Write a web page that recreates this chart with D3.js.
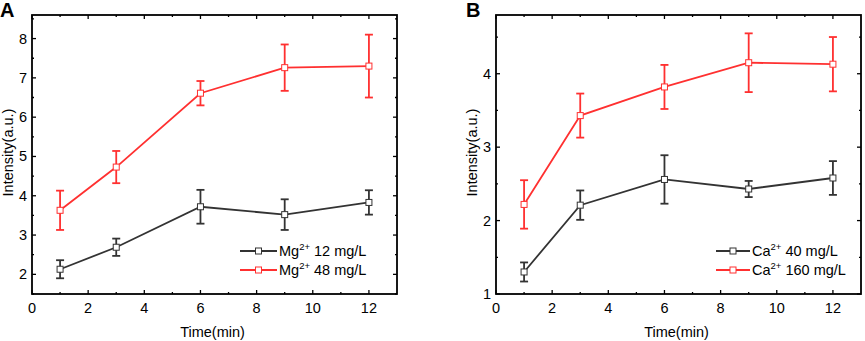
<!DOCTYPE html>
<html>
<head>
<meta charset="utf-8">
<script src="https://cdn.jsdelivr.net/npm/d3@7"></script>
<style>
  body { margin: 0; background: #fff; }
  text { font-family: "Liberation Sans", Arial, sans-serif; }
</style>
</head>
<body>
<div id="chart"></div>
<script>
// data
const times = [1, 3, 6, 9, 12];

const mgLow = [2.13, 2.69, 3.72, 3.52, 3.83];
const mgLowErr = [0.23, 0.22, 0.43, 0.39, 0.31];
const mgHigh = [3.63, 4.73, 6.61, 7.26, 7.30];
const mgHighErr = [0.50, 0.41, 0.31, 0.59, 0.80];

const caLow = [1.30, 2.21, 2.56, 2.43, 2.58];
const caLowErr = [0.13, 0.20, 0.33, 0.11, 0.23];
const caHigh = [2.22, 3.43, 3.82, 4.15, 4.13];
const caHighErr = [0.33, 0.30, 0.30, 0.40, 0.37];

const xTicks = [0, 2, 4, 6, 8, 10, 12];
const yTicksA = [2, 3, 4, 5, 6, 7, 8];
const yTicksB = [1, 2, 3, 4];

const colors = { black: "#333333", red: "#ff3030" };
const fs = 14.5;

const svg = d3.select("#chart").append("svg")
  .attr("width", 865)
  .attr("height", 341);

const panels = [
  {
    letter: "A", letterX: 0, left: 32, right: 397,
    yDomain: [1.5, 8.6], yTicks: yTicksA, yMinor: 0.5,
    titleX: 8, legendX: 240, ion: "Mg", ionUnit: ["12 mg/L", "48 mg/L"],
    series: [
      { values: mgLow, err: mgLowErr, color: colors.black },
      { values: mgHigh, err: mgHighErr, color: colors.red }
    ]
  },
  {
    letter: "B", letterX: 466, left: 496, right: 861,
    yDomain: [1, 4.8], yTicks: yTicksB, yMinor: 0.5,
    titleX: 472, legendX: 716, ion: "Ca", ionUnit: ["40 mg/L", "160 mg/L"],
    series: [
      { values: caLow, err: caLowErr, color: colors.black },
      { values: caHigh, err: caHighErr, color: colors.red }
    ]
  }
];

const plotTop = 15, plotBottom = 294;

panels.forEach(p => {
  const g = svg.append("g");

  const x = d3.scaleLinear().domain([0, 13]).range([p.left, p.right]);
  const y = d3.scaleLinear().domain(p.yDomain).range([plotBottom, plotTop]);

  // minor ticks
  const xMinor = d3.range(1, 13, 2);
  const yMinor = d3.range(Math.ceil(p.yDomain[0] / p.yMinor) * p.yMinor, p.yDomain[1], p.yMinor)
    .filter(v => !p.yTicks.includes(+v.toFixed(2)));

  const tickG = g.append("g").attr("stroke", "#000").attr("stroke-width", 1.3);

  // ticks point inward on all four sides
  xTicks.forEach(v => {
    tickG.append("line").attr("x1", x(v)).attr("x2", x(v)).attr("y1", plotBottom).attr("y2", plotBottom - 4);
    tickG.append("line").attr("x1", x(v)).attr("x2", x(v)).attr("y1", plotTop).attr("y2", plotTop + 4);
  });
  xMinor.forEach(v => {
    tickG.append("line").attr("x1", x(v)).attr("x2", x(v)).attr("y1", plotBottom).attr("y2", plotBottom - 2);
    tickG.append("line").attr("x1", x(v)).attr("x2", x(v)).attr("y1", plotTop).attr("y2", plotTop + 2);
  });
  p.yTicks.forEach(v => {
    tickG.append("line").attr("x1", p.left).attr("x2", p.left + 4).attr("y1", y(v)).attr("y2", y(v));
    tickG.append("line").attr("x1", p.right).attr("x2", p.right - 4).attr("y1", y(v)).attr("y2", y(v));
  });
  yMinor.forEach(v => {
    tickG.append("line").attr("x1", p.left).attr("x2", p.left + 2).attr("y1", y(v)).attr("y2", y(v));
    tickG.append("line").attr("x1", p.right).attr("x2", p.right - 2).attr("y1", y(v)).attr("y2", y(v));
  });

  // frame
  g.append("rect")
    .attr("x", p.left).attr("y", plotTop)
    .attr("width", p.right - p.left).attr("height", plotBottom - plotTop)
    .attr("fill", "none").attr("stroke", "#000").attr("stroke-width", 1.8);

  // tick labels
  g.selectAll(".xl").data(xTicks).join("text")
    .attr("x", d => x(d)).attr("y", plotBottom + 19)
    .attr("text-anchor", "middle").attr("font-size", fs)
    .text(d => d);
  g.selectAll(".yl").data(p.yTicks).join("text")
    .attr("x", p.left - 5).attr("y", d => y(d) + 5)
    .attr("text-anchor", "end").attr("font-size", fs)
    .text(d => d);

  // axis titles
  g.append("text")
    .attr("x", (p.left + p.right) / 2 - 2).attr("y", 337)
    .attr("text-anchor", "middle").attr("font-size", fs)
    .text("Time(min)");
  g.append("text")
    .attr("transform", `translate(${p.titleX + 5},${(plotTop + plotBottom) / 2 - 2}) rotate(-90)`)
    .attr("text-anchor", "middle").attr("font-size", fs)
    .text("Intensity(a.u.)");

  // panel letter
  g.append("text")
    .attr("x", p.letterX).attr("y", 17)
    .attr("font-size", 20).attr("font-weight", "bold")
    .text(p.letter);

  // series
  const line = d3.line().x((d, i) => x(times[i])).y(d => y(d));
  p.series.forEach(s => {
    const sg = g.append("g");
    sg.append("path")
      .attr("d", line(s.values))
      .attr("fill", "none").attr("stroke", s.color).attr("stroke-width", 1.8);

    s.values.forEach((v, i) => {
      const cx = x(times[i]);
      const e = s.err[i];
      sg.append("line").attr("x1", cx).attr("x2", cx).attr("y1", y(v + e)).attr("y2", y(v - e))
        .attr("stroke", s.color).attr("stroke-width", 1.8);
      [v + e, v - e].forEach(w => {
        sg.append("line").attr("x1", cx - 4).attr("x2", cx + 4).attr("y1", y(w)).attr("y2", y(w))
          .attr("stroke", s.color).attr("stroke-width", 1.8);
      });
      sg.append("rect")
        .attr("x", cx - 3).attr("y", y(v) - 3).attr("width", 6).attr("height", 6)
        .attr("fill", "#fff").attr("stroke", s.color).attr("stroke-width", 1);
    });
  });

  // legend
  const lg = g.append("g");
  p.series.forEach((s, i) => {
    const ly = 251 + i * 19;
    const lx = p.legendX;
    const w = p.letter === "A" ? 37 : 34;
    lg.append("line").attr("x1", lx).attr("x2", lx + w).attr("y1", ly).attr("y2", ly)
      .attr("stroke", s.color).attr("stroke-width", 1.8);
    lg.append("rect").attr("x", lx + w / 2 - 3).attr("y", ly - 3).attr("width", 6).attr("height", 6)
      .attr("fill", "#fff").attr("stroke", s.color).attr("stroke-width", 1);
    const t = lg.append("text").attr("x", lx + w + 2).attr("y", ly + 5).attr("font-size", fs);
    t.append("tspan").text(p.ion);
    t.append("tspan").attr("dy", -6).attr("font-size", 9.5).text("2+");
    t.append("tspan").attr("dy", 6).text(" " + p.ionUnit[i]);
  });
});
</script>
</body>
</html>
